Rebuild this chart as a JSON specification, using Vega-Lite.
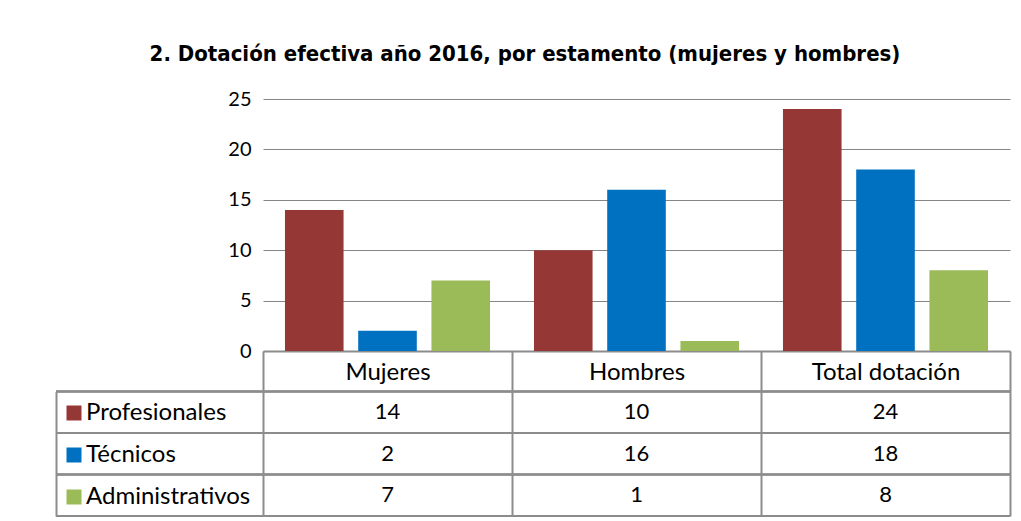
{
  "$schema": "https://vega.github.io/schema/vega-lite/v6.json",
  "width": 954,
  "height": 417,
  "autosize": {"type": "none"},
  "padding": {"left": 56, "top": 99, "right": 11, "bottom": 5},
  "background": "white",
  "config": {"view": {"stroke": null}, "font": "Lato"},
  "title": {
    "text": "2. Dotación efectiva año 2016, por estamento (mujeres y hombres)",
    "font": "'Liberation Sans Narrow', 'DejaVu Sans Condensed', sans-serif",
    "fontSize": 22,
    "fontWeight": "bold",
    "color": "#000000",
    "anchor": "middle",
    "frame": "group",
    "baseline": "alphabetic",
    "offset": 6,
    "dx": -8
  },
  "data": {
    "values": [
      {"categoria": "Mujeres", "serie": "Profesionales", "valor": 14},
      {"categoria": "Mujeres", "serie": "Técnicos", "valor": 2},
      {"categoria": "Mujeres", "serie": "Administrativos", "valor": 7},
      {"categoria": "Hombres", "serie": "Profesionales", "valor": 10},
      {"categoria": "Hombres", "serie": "Técnicos", "valor": 16},
      {"categoria": "Hombres", "serie": "Administrativos", "valor": 1},
      {"categoria": "Total dotación", "serie": "Profesionales", "valor": 24},
      {"categoria": "Total dotación", "serie": "Técnicos", "valor": 18},
      {"categoria": "Total dotación", "serie": "Administrativos", "valor": 8}
    ]
  },
  "layer": [
    {
      "mark": {"type": "bar"},
      "encoding": {
        "x": {
          "field": "categoria",
          "type": "nominal",
          "sort": ["Mujeres", "Hombres", "Total dotación"],
          "scale": {"domain": ["Mujeres", "Hombres", "Total dotación"], "range": [207, 954], "paddingInner": 0, "paddingOuter": 0},
          "axis": {
            "orient": "bottom",
            "offset": -165,
            "title": null,
            "tickBand": "extent",
            "tickSize": 165,
            "tickColor": "#8c8c8c",
            "tickWidth": 2,
            "domainColor": "#8c8c8c",
            "domainWidth": 2,
            "labelFontSize": 24,
            "labelFont": "Lato",
            "labelColor": "#000000",
            "labelPadding": -144,
            "labelBaseline": "middle",
            "labelAngle": 0,
            "labelFlush": false,
            "labelOverlap": false
          }
        },
        "xOffset": {
          "field": "serie",
          "type": "nominal",
          "sort": ["Profesionales", "Técnicos", "Administrativos"],
          "scale": {"paddingInner": 0.2, "paddingOuter": 0.3}
        },
        "y": {
          "field": "valor",
          "type": "quantitative",
          "scale": {"domain": [0, 25], "range": [252, 0], "nice": false, "zero": true},
          "axis": {
            "offset": -207,
            "title": null,
            "values": [0, 5, 10, 15, 20, 25],
            "grid": true,
            "gridColor": "#868686",
            "gridWidth": 1,
            "domain": false,
            "ticks": false,
            "labelFontSize": 20,
            "labelFont": "Lato",
            "labelPadding": 12,
            "labelColor": "#000000"
          }
        },
        "color": {
          "field": "serie",
          "type": "nominal",
          "sort": ["Profesionales", "Técnicos", "Administrativos"],
          "scale": {"domain": ["Profesionales", "Técnicos", "Administrativos"], "range": ["#953735", "#0070C0", "#9BBB59"]},
          "legend": {
            "orient": "none",
            "legendX": 6,
            "legendY": 302,
            "title": null,
            "symbolType": "square",
            "symbolSize": 225,
            "symbolStrokeWidth": 0,
            "labelFontSize": 24,
            "labelFont": "Lato",
            "labelOffset": 0,
            "labelLimit": 400,
            "rowPadding": 18,
            "padding": 0,
            "labelColor": "#000000"
          }
        }
      }
    },
    {
      "layer": [
        {
          "mark": {"type": "text", "fontSize": 22, "color": "#000000", "font": "Lato"},
          "encoding": {
            "x": {"field": "categoria", "type": "nominal", "sort": ["Mujeres", "Hombres", "Total dotación"]},
            "y": {
              "field": "serie",
              "type": "nominal",
              "sort": ["Profesionales", "Técnicos", "Administrativos"],
              "scale": {"domain": ["Profesionales", "Técnicos", "Administrativos"], "range": [292.5, 417], "paddingInner": 0, "paddingOuter": 0},
              "axis": {"orient": "left", "title": null, "labels": false, "ticks": false, "domain": true, "domainColor": "#8c8c8c", "domainWidth": 2, "grid": false}
            },
            "text": {"field": "valor", "type": "quantitative"}
          }
        },
        {
          "mark": {"type": "rule", "color": "#8c8c8c", "strokeWidth": 2},
          "encoding": {
            "y": {"field": "serie", "type": "nominal", "sort": ["Profesionales", "Técnicos", "Administrativos"], "bandPosition": 0}
          }
        },
        {
          "transform": [{"filter": "datum.serie === 'Administrativos'"}],
          "mark": {"type": "rule", "color": "#8c8c8c", "strokeWidth": 2},
          "encoding": {
            "y": {"field": "serie", "type": "nominal", "sort": ["Profesionales", "Técnicos", "Administrativos"], "bandPosition": 1}
          }
        }
      ]
    }
  ],
  "resolve": {"scale": {"y": "independent"}, "axis": {"y": "independent"}}
}
